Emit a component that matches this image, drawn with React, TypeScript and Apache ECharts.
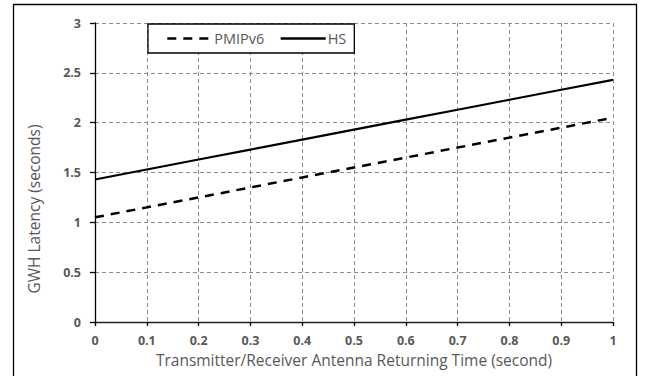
import React, { useEffect, useRef } from "react";
import * as echarts from "echarts";

const xValues = [0, 0.1, 0.2, 0.3, 0.4, 0.5, 0.6, 0.7, 0.8, 0.9, 1];
const pmipv6 = [1.05, 1.15, 1.25, 1.35, 1.45, 1.55, 1.65, 1.75, 1.85, 1.95, 2.05];
const hs = [1.43, 1.53, 1.63, 1.73, 1.83, 1.93, 2.03, 2.13, 2.23, 2.33, 2.43];
const seriesNames = ["PMIPv6", "HS"];
const xAxisTitle = "Transmitter/Receiver Antenna Returning Time (second)";
const yAxisTitle = "GWH Latency (seconds)";

const FONT = "'Open Sans', 'Noto Sans', sans-serif";
const GRAY_TEXT = "#595959";

export default function App() {
  const ref = useRef<HTMLDivElement>(null);
  useEffect(() => {
    if (!ref.current) return;
    const chart = echarts.init(ref.current, null, { renderer: "svg" });
    const toPairs = (ys: number[]) => xValues.map((x, i) => [x, ys[i]]);
    chart.setOption({
      animation: false,
      backgroundColor: "#ffffff",
      grid: { left: 95, right: 38, top: 23, bottom: 54, containLabel: false },
      legend: {
        show: true,
        orient: "horizontal",
        left: 148,
        top: 24,
        padding: [7, 8, 7, 18],
        itemGap: 15,
        itemWidth: 45,
        itemHeight: 14,
        borderColor: "#000",
        borderWidth: 1.3,
        backgroundColor: "#fff",
        itemStyle: { opacity: 0, borderWidth: 0 },
        lineStyle: { width: 2.6 },
        textStyle: { color: GRAY_TEXT, fontSize: 14.5, fontFamily: FONT, padding: [0, 0, 0, -3] },
        data: seriesNames.map((n) => ({ name: n })),
      },
      xAxis: {
        type: "value",
        min: 0,
        max: 1,
        interval: 0.1,
        name: xAxisTitle,
        nameLocation: "middle",
        nameGap: 22,
        nameTextStyle: { color: GRAY_TEXT, fontSize: 15.5, fontFamily: FONT },
        axisLine: { show: true, lineStyle: { color: "#222", width: 1.3 } },
        axisTick: { show: true, length: 4, lineStyle: { color: "#000", width: 1.3 } },
        axisLabel: {
          color: GRAY_TEXT,
          fontSize: 12.5,
          fontWeight: "bold",
          fontFamily: FONT,
          margin: 12,
          formatter: (v: number) => String(Math.round(v * 10) / 10),
        },
        splitLine: { show: true, lineStyle: { color: "#8c8c8c", type: [4, 3], width: 1 } },
      },
      yAxis: {
        type: "value",
        min: 0,
        max: 3,
        interval: 0.5,
        axisLine: { show: true, lineStyle: { color: "#000", width: 1.3 } },
        axisTick: { show: true, length: 5, lineStyle: { color: "#000", width: 1.3 } },
        axisLabel: {
          color: GRAY_TEXT,
          fontSize: 12.5,
          fontWeight: "bold",
          fontFamily: FONT,
          margin: 14,
        },
        splitLine: { show: true, lineStyle: { color: "#8c8c8c", type: [4, 3], width: 1 } },
      },
      series: [
        {
          name: seriesNames[0],
          type: "line",
          data: toPairs(pmipv6),
          symbol: "none",
          lineStyle: { color: "#000", width: 2.5, type: [9, 7] },
          itemStyle: { color: "#000" },
        },
        {
          name: seriesNames[1],
          type: "line",
          data: toPairs(hs),
          symbol: "none",
          lineStyle: { color: "#000", width: 2.2, type: "solid" },
          itemStyle: { color: "#000" },
        },
      ],
      graphic: [
        {
          type: "text",
          x: 34,
          y: 209,
          rotation: Math.PI / 2,
          style: {
            text: yAxisTitle,
            fill: GRAY_TEXT,
            font: `15.5px ${FONT}`,
            align: "center",
            verticalAlign: "middle",
          },
          silent: true,
        },
        {
          type: "rect",
          shape: { x: 13.5, y: 4.5, width: 623, height: 400 },
          style: { fill: "none", stroke: "#000", lineWidth: 1.3 },
          silent: true,
          z: 100,
        },
      ],
    });
    return () => chart.dispose();
  }, []);
  return (
    <div
      ref={ref}
      style={{ position: "absolute", left: 0, top: 0, width: 651, height: 376 }}
    />
  );
}
